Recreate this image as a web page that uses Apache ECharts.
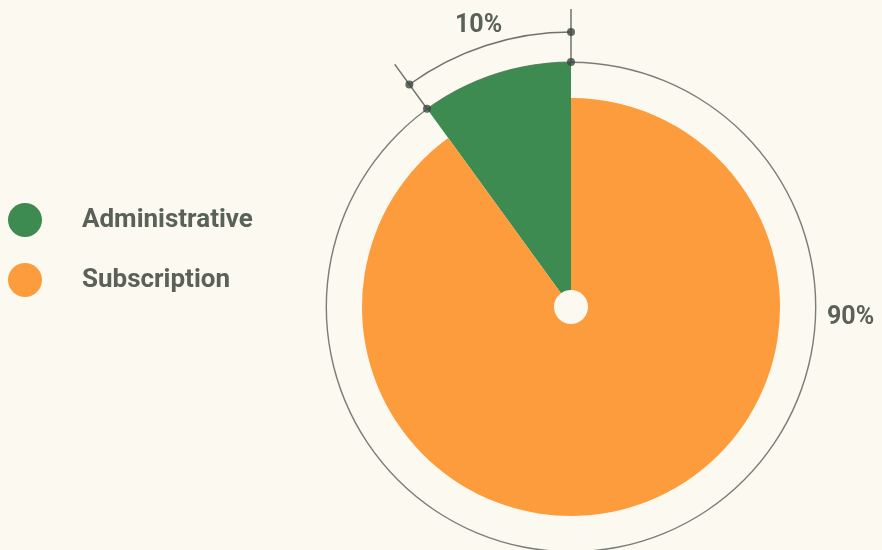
<!DOCTYPE html>
<html>
<head>
<meta charset="utf-8">
<script src="https://cdn.jsdelivr.net/npm/echarts@6/dist/echarts.min.js"></script>
<style>
  html, body { margin: 0; padding: 0; background: #fcf9f1; }
  #chart { width: 882px; height: 550px; }
</style>
</head>
<body>
<div id="chart"></div>
<script>
// data
const categories = ['Administrative', 'Subscription'];
const values = [10, 90];
const colors = ['#3d8b50', '#fd9c3c'];

const total = values[0] + values[1];
const share = values.map(v => v / total * 100);
const pctText = share.map(s => Math.round(s) + '%');

const center = [571, 307];
const textColor = '#5a6158';
const lineColor = '#6f736e';
const dotColor = '#3b4640';

let myChart = echarts.init(document.getElementById('chart'));
myChart.setOption({
  backgroundColor: '#fcf9f1',
  animation: false,
  legend: {
    orient: 'vertical',
    left: 3,
    top: 198,
    icon: 'circle',
    itemWidth: 34,
    itemHeight: 34,
    itemGap: 26,
    textStyle: { color: textColor, fontSize: 26, fontWeight: 'bold', fontFamily: 'Roboto', padding: [8, 0, 0, 35] },
    data: [
      { name: categories[0], itemStyle: { color: colors[0] } },
      { name: categories[1], itemStyle: { color: colors[1] } }
    ]
  },
  polar: { center: center, radius: 300 },
  angleAxis: { type: 'value', min: 0, max: 100, startAngle: 90, clockwise: false, show: false },
  radiusAxis: { type: 'value', min: 0, max: 300, show: false },
  series: [
    // thin outline circle
    {
      type: 'pie', silent: true, center: center, radius: [244, 245.4],
      label: { show: false }, z: 1,
      data: [{ value: 1, itemStyle: { color: '#7a7e79' } }]
    },
    // administrative slice (bigger radius)
    {
      type: 'pie', name: 'adm', center: center, radius: [17, 245],
      startAngle: 90, clockwise: false, silent: true, z: 2,
      label: { show: false }, labelLine: { show: false },
      data: [
        { name: categories[0], value: values[0], itemStyle: { color: colors[0] } },
        { name: '_rest', value: values[1], itemStyle: { color: 'transparent' } }
      ]
    },
    // subscription slice
    {
      type: 'pie', name: 'sub', center: center, radius: [17, 209],
      startAngle: 90, clockwise: false, silent: true, z: 2,
      label: { show: false }, labelLine: { show: false },
      data: [
        { name: '_pad', value: values[0], itemStyle: { color: 'transparent' } },
        { name: categories[1], value: values[1], itemStyle: { color: colors[1] } }
      ]
    },
    // dimension arc over the administrative share
    {
      type: 'pie', silent: true, center: center, radius: [274.3, 275.7],
      startAngle: 90, clockwise: false, z: 3,
      label: { show: false }, labelLine: { show: false },
      data: [
        { value: values[0], itemStyle: { color: lineColor } },
        { value: values[1], itemStyle: { color: 'transparent' } }
      ]
    },
    // tick lines at both ends of the arc
    {
      type: 'line', coordinateSystem: 'polar', silent: true, symbol: 'none', z: 4,
      lineStyle: { color: lineColor, width: 1.5 },
      data: [[245, 0], [298, 0]]
    },
    {
      type: 'line', coordinateSystem: 'polar', silent: true, symbol: 'none', z: 4,
      lineStyle: { color: lineColor, width: 1.5 },
      data: [[245, share[0]], [302, share[0]]]
    },
    // dots
    {
      type: 'scatter', coordinateSystem: 'polar', silent: true, symbolSize: 8, z: 5,
      itemStyle: { color: dotColor },
      data: [[245, 0], [275, 0], [245, share[0]], [275, share[0]]]
    }
  ],
  graphic: [
    {
      type: 'text', left: 455, top: 13,
      style: { text: pctText[0], fill: textColor, font: 'bold 25px Roboto' }
    },
    {
      type: 'text', left: 827, top: 305,
      style: { text: pctText[1], fill: textColor, font: 'bold 25px Roboto' }
    }
  ]
});
</script>
</body>
</html>
